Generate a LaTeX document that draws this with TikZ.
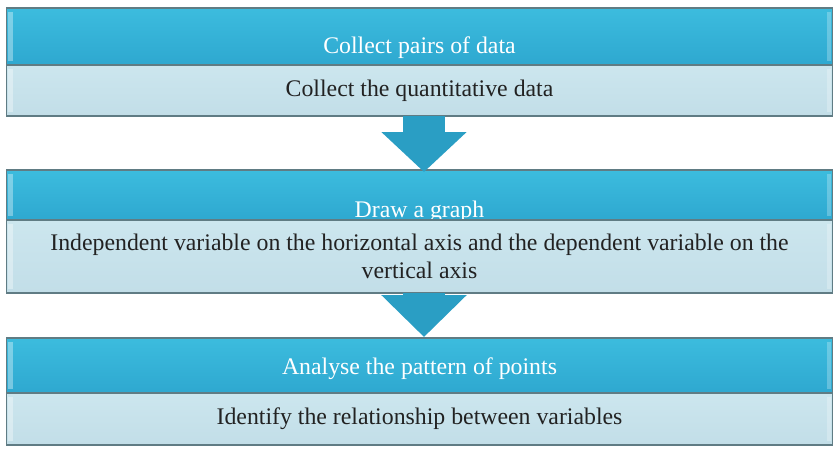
\documentclass[tikz,border=0pt]{standalone}
\usepackage{fontspec}
\setmainfont{Liberation Serif}
\usetikzlibrary{positioning,arrows.meta}

\definecolor{headtop}{RGB}{60,188,222}
\definecolor{headbot}{RGB}{46,168,208}
\definecolor{subtop}{RGB}{204,230,238}
\definecolor{subbot}{RGB}{194,222,232}
\definecolor{boxedge}{RGB}{96,124,132}
\definecolor{arrowblue}{RGB}{42,158,196}
\definecolor{textgray}{RGB}{34,34,34}

\begin{document}
\begin{tikzpicture}[x=1pt,y=-1pt,
  stage/.style={draw=boxedge,line width=1.2pt,minimum width=826pt,
    inner sep=0pt,outer sep=0pt,font=\fontsize{23.8}{28}\selectfont,
    path picture={
      \fill[white,opacity=.35] ([xshift=1.5pt,yshift=-4pt]path picture bounding box.north west)
        rectangle ([xshift=6pt,yshift=4pt]path picture bounding box.south west);
      \fill[white,opacity=.25] ([xshift=-6pt,yshift=-4pt]path picture bounding box.north east)
        rectangle ([xshift=-1.5pt,yshift=4pt]path picture bounding box.south east);}},
  headbox/.style={stage,top color=headtop,bottom color=headbot,text=white},
  subbox/.style={stage,top color=subtop,bottom color=subbot,text=textgray,align=center},
  flowarrow/.style={draw=arrowblue,line width=42pt,-{Triangle[length=#1,width=83pt]}}]
  \useasboundingbox (0,0) rectangle (834,448);
  % stage 1
  \node[headbox,anchor=north,text height=45pt,text depth=12pt] (head1) at (419.5,8) {Collect pairs of data};
  \node[subbox,minimum height=51pt,below=0pt of head1] (sub1) {Collect the quantitative data};
  % stage 2
  \node[headbox,text height=47pt,text depth=3pt,below=54pt of sub1] (head2) {Draw a graph};
  \node[subbox,minimum height=73pt,below=0pt of head2] (sub2)
    {Independent variable on the horizontal axis and the dependent variable on the\\ vertical axis};
  % stage 3
  \node[headbox,text height=36pt,text depth=19pt,below=45pt of sub2] (head3) {Analyse the pattern of points};
  \node[subbox,minimum height=52pt,below=0pt of head3] (sub3) {Identify the relationship between variables};
  % arrows between stages
  \draw[flowarrow=40pt] ([xshift=4.5pt]sub1.south) -- ([xshift=4.5pt,yshift=-2pt]head2.north);
  \draw[flowarrow=42pt] ([xshift=4.5pt]sub2.south) -- ([xshift=4.5pt,yshift=1pt]head3.north);
\end{tikzpicture}
\end{document}
